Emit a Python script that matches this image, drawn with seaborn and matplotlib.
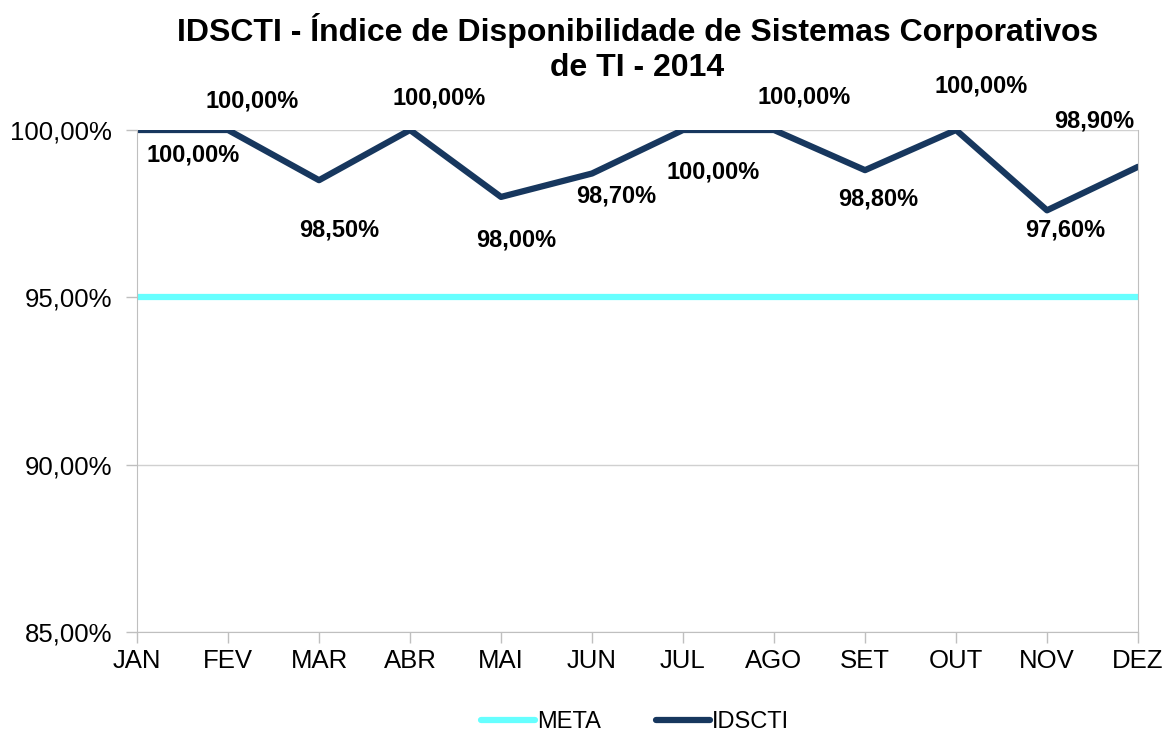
import matplotlib
matplotlib.use("Agg")
import matplotlib.pyplot as plt
import seaborn as sns
import pandas as pd

meses = ["JAN", "FEV", "MAR", "ABR", "MAI", "JUN", "JUL", "AGO", "SET", "OUT", "NOV", "DEZ"]
idscti = [100.0, 100.0, 98.5, 100.0, 98.0, 98.7, 100.0, 100.0, 98.8, 100.0, 97.6, 98.9]
meta = [95.0] * 12

# deslocamento dos rótulos (pixels) em relação ao ponto
label_offsets = [(56, -25), (24, 29), (20, -50), (29, 32), (15, -43), (24, -23),
                 (30, -42), (30, 33), (13, -29), (25, 44), (18, -20), (-44, 46)]

sns.set_style("white")
plt.rcParams["font.family"] = ["Liberation Sans", "DejaVu Sans"]
plt.rcParams["text.color"] = "black"

df = pd.DataFrame({"Mês": meses, "IDSCTI": idscti, "META": meta})
df["pos"] = range(len(meses))

fig, ax = plt.subplots(figsize=(11.76, 7.34), dpi=100)
fig.subplots_adjust(left=0.1165, right=0.9677, top=0.8229, bottom=0.139)

sns.lineplot(data=df, x="pos", y="META", ax=ax, color="#66FFFF", linewidth=4.5, label="META")
sns.lineplot(data=df, x="pos", y="IDSCTI", ax=ax, color="#17375E", linewidth=4.5, label="IDSCTI")

for i, (v, off) in enumerate(zip(idscti, label_offsets)):
    ax.annotate(f"{v:.2f}%".replace(".", ","), (i, v), xytext=off, textcoords="offset pixels",
                ha="center", va="center", fontsize=17, fontweight="bold", color="black")

ax.set_xlim(0, 11)
ax.set_ylim(85, 100)
ax.set_xticks(df["pos"])
ax.set_xticklabels(meses)
ax.set_yticks([85, 90, 95, 100])
ax.set_yticklabels([f"{t:.2f}%".replace(".", ",") for t in [85, 90, 95, 100]])
ax.tick_params(axis="both", labelsize=18.5, colors="#BFBFBF", labelcolor="black",
               length=8, width=1, direction="out", left=True, bottom=True)
ax.tick_params(axis="x", pad=4)
ax.tick_params(axis="y", pad=10)
ax.set_xlabel("")
ax.set_ylabel("")
ax.grid(axis="y", color="#D0D0D0", linewidth=1)
ax.set_axisbelow(True)
for side in ["left", "bottom", "right"]:
    ax.spines[side].set_color("#BFBFBF")
ax.spines["top"].set_visible(False)

# título em duas linhas, centralizado sobre a área do gráfico
cx = (0.1165 + 0.9677) / 2
fig.text(cx, 0.958, "IDSCTI - Índice de Disponibilidade de Sistemas Corporativos",
         ha="center", va="center", fontsize=23, fontweight="bold", color="black")
fig.text(cx, 0.907, "de TI - 2014",
         ha="center", va="center", fontsize=23, fontweight="bold", color="black")

ax.get_legend().remove()
handles, labels = ax.get_legend_handles_labels()
leg = fig.legend(handles, labels, loc="lower center", bbox_to_anchor=(0.54, -0.028), ncol=2,
                 frameon=False, fontsize=17, handlelength=2.3, handletextpad=0.1, columnspacing=2.3)
for t in leg.get_texts():
    t.set_color("black")

plt.savefig("out.png", dpi=100)
plt.close()
